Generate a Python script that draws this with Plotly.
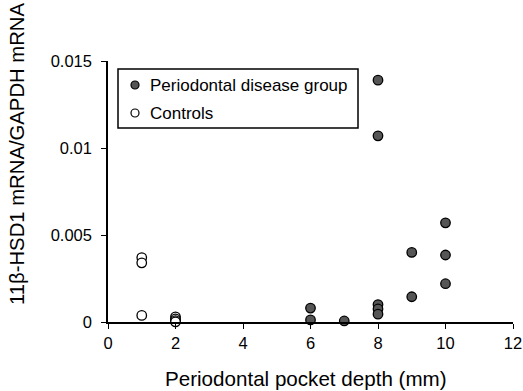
import plotly.graph_objects as go

disease_x = [8, 8, 10, 10, 10, 9, 9, 6, 6, 7, 8, 8, 8]
disease_y = [0.0139, 0.0107, 0.0057, 0.00385, 0.0022, 0.0040, 0.00145, 0.0008, 0.00012, 0.00006, 0.00100, 0.00075, 0.00045]
control_x = [1, 1, 1, 2, 2, 2, 2]
control_y = [0.0037, 0.0034, 0.00038, 0.00030, 0.00018, 0.00008, 0.00001]

xticks = [0, 2, 4, 6, 8, 10, 12]
yticks = [0, 0.005, 0.01, 0.015]
yticklabels = ["0", "0.005", "0.01", "0.015"]
legend_names = ["Periodontal disease group", "Controls"]

font = "Liberation Sans, Arial, sans-serif"

W, H = 523, 391
L, R, T, B = 108, 10, 61, 69
PW, PH = W - L - R, H - T - B


def px(x):
    return (x - L) / PW


def py(y):
    return (H - B - y) / PH


fig = go.Figure()
fig.add_trace(go.Scatter(
    x=disease_x, y=disease_y, mode="markers", name=legend_names[0],
    marker=dict(size=9.5, color="#555555", line=dict(color="black", width=1.3)),
    cliponaxis=False, showlegend=False, hoverinfo="skip",
))
fig.add_trace(go.Scatter(
    x=control_x, y=control_y, mode="markers", name=legend_names[1],
    marker=dict(size=9.5, color="white", line=dict(color="black", width=1.3)),
    cliponaxis=False, showlegend=False, hoverinfo="skip",
))

shapes = [dict(
    type="rect", xref="paper", yref="paper",
    x0=px(118), x1=px(358), y0=py(128), y1=py(69),
    line=dict(color="black", width=1.5), fillcolor="rgba(0,0,0,0)",
)]
annotations = []
rows = [(85, "#555555"), (113, "white")]
for (ry, fill), name in zip(rows, legend_names):
    shapes.append(dict(
        type="circle", xref="paper", yref="paper",
        xsizemode="pixel", ysizemode="pixel",
        xanchor=px(135), yanchor=py(ry),
        x0=-4, x1=4, y0=-4, y1=4,
        line=dict(color="black", width=1.2), fillcolor=fill,
    ))
    annotations.append(dict(
        xref="paper", yref="paper", x=px(148), y=py(ry),
        xanchor="left", yanchor="middle", text=name, showarrow=False,
        font=dict(size=17, family=font, color="black"),
    ))

annotations.append(dict(
    xref="paper", yref="paper", x=px(17), y=py(154),
    xanchor="center", yanchor="middle", textangle=-90,
    text="11β-HSD1 mRNA/GAPDH mRNA", showarrow=False,
    font=dict(size=20.3, family=font, color="black"),
))
annotations.append(dict(
    xref="paper", yref="paper", x=px(306), y=py(378),
    xanchor="center", yanchor="middle",
    text="Periodontal pocket depth (mm)", showarrow=False,
    font=dict(size=20.6, family=font, color="black"),
))

fig.update_layout(
    width=W, height=H,
    margin=dict(l=L, r=R, t=T, b=B),
    paper_bgcolor="white", plot_bgcolor="white",
    font=dict(family=font, size=16.5, color="black"),
    showlegend=False,
    xaxis=dict(
        range=[0, 12], tickvals=xticks, ticks="outside", ticklen=5,
        showline=True, linecolor="black", linewidth=1.5, tickcolor="black", tickwidth=1.3,
        showgrid=False, zeroline=False, tickfont=dict(size=16.5), automargin=False,
    ),
    yaxis=dict(
        range=[0, 0.015], tickvals=yticks, ticktext=yticklabels, ticks="outside", ticklen=5,
        showline=True, linecolor="black", linewidth=1.5, tickcolor="black", tickwidth=1.3,
        showgrid=False, zeroline=False, tickfont=dict(size=16.5), ticklabelstandoff=6,
        automargin=False,
    ),
    shapes=shapes,
    annotations=annotations,
)

post = (
    "document.body.style.margin='0';"
    "document.body.style.overflow='hidden';"
    "document.documentElement.style.overflow='hidden';"
)
fig.write_html("out.html", post_script=post, config={"displayModeBar": False})
